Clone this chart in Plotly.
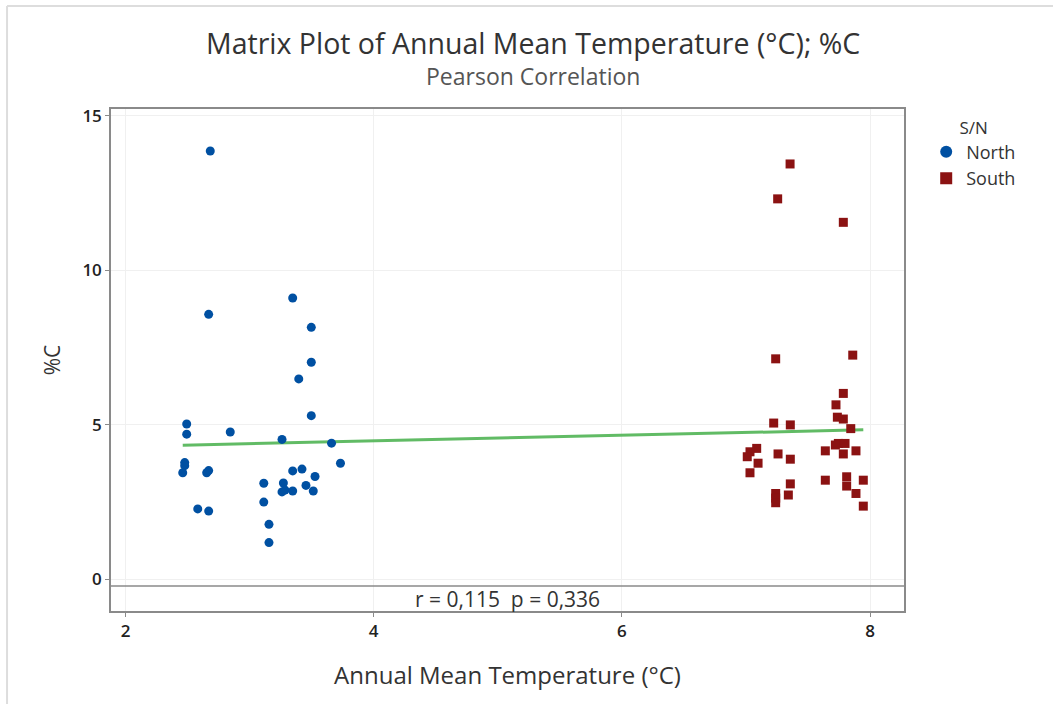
import numpy as np
import plotly.graph_objects as go

# Annual mean temperature (°C) and carbon content (%C) per site
north_temp = [2.683, 2.670, 3.347, 3.497, 3.497, 3.396, 3.497, 2.493, 2.493, 2.844,
              3.261, 3.660, 2.477, 2.477, 2.461, 2.670, 2.654, 3.732, 3.347, 3.422,
              3.527, 3.114, 3.272, 3.261, 3.285, 3.347, 3.454, 3.513, 3.114, 2.582,
              2.670, 3.156, 3.156]
north_c = [13.86, 8.57, 9.10, 8.15, 7.02, 6.48, 5.29, 5.02, 4.69, 4.76,
           4.52, 4.40, 3.77, 3.67, 3.44, 3.51, 3.44, 3.75, 3.50, 3.56,
           3.32, 3.10, 3.11, 2.82, 2.88, 2.85, 3.03, 2.85, 2.49, 2.27,
           2.20, 1.77, 1.18]

south_temp = [7.355, 7.255, 7.784, 7.239, 7.860, 7.784, 7.725, 7.736, 7.784, 7.844,
              7.223, 7.357, 7.086, 7.032, 7.010, 7.097, 7.032, 7.258, 7.357, 7.639,
              7.744, 7.798, 7.784, 7.886, 7.720, 7.639, 7.811, 7.811, 7.945, 7.886,
              7.945, 7.357, 7.341, 7.239, 7.239, 7.239]
south_c = [13.44, 12.31, 11.55, 7.13, 7.25, 6.01, 5.64, 5.24, 5.18, 4.87,
           5.05, 4.99, 4.23, 4.12, 3.96, 3.75, 3.44, 4.05, 3.88, 4.15,
           4.39, 4.39, 4.05, 4.15, 4.34, 3.20, 3.31, 3.01, 3.20, 2.77,
           2.36, 3.08, 2.72, 2.77, 2.62, 2.47]

group_names = ["North", "South"]
corr_text = "r = 0,115  p = 0,336"

x_ticks = [2, 4, 6, 8]
y_ticks = [0, 5, 10, 15]
x_range = [1.883, 8.273]
y_range = [-1.036, 15.22]
strip_top = -0.227

# Least-squares line over all sites
all_x = np.array(north_temp + south_temp)
all_y = np.array(north_c + south_c)
slope, intercept = np.polyfit(all_x, all_y, 1)
fit_x = np.array([all_x.min(), all_x.max()])
fit_y = intercept + slope * fit_x

FONT = "Open Sans"
fig = go.Figure()

fig.add_trace(go.Scatter(
    x=fit_x, y=fit_y, mode="lines", showlegend=False, hoverinfo="skip",
    line=dict(color="rgba(80,180,84,0.9)", width=3),
))
fig.add_trace(go.Scatter(
    x=north_temp, y=north_c, mode="markers", name=group_names[0],
    marker=dict(symbol="circle", size=9, color="#0050A2"),
))
fig.add_trace(go.Scatter(
    x=south_temp, y=south_c, mode="markers", name=group_names[1],
    marker=dict(symbol="square", size=9, color="#8B1212"),
))

axis_common = dict(
    showline=True, linecolor="#8a8a8a", linewidth=1.5, mirror=True,
    showgrid=True, gridcolor="#f0f0f0", gridwidth=1,
    zeroline=False, ticks="outside", ticklen=4, tickcolor="#8a8a8a",
    tickfont=dict(family=FONT, size=17, color="#222", weight=600),
)

fig.update_xaxes(
    range=x_range, tickvals=x_ticks, **axis_common,
    title=dict(text="Annual Mean Temperature (°C)",
               font=dict(family=FONT, size=24, color="#333"), standoff=26),
)
fig.update_yaxes(
    range=y_range, tickvals=y_ticks, **axis_common,
    title=dict(text="%C", font=dict(family=FONT, size=21, color="#333"), standoff=16),
)

shapes = [
    # correlation strip under the data region
    dict(type="rect", xref="paper", yref="y", x0=0, x1=1, y0=y_range[0], y1=strip_top,
         fillcolor="white", line=dict(width=0), layer="between"),
    dict(type="line", xref="paper", yref="y", x0=0, x1=1, y0=strip_top, y1=strip_top,
         line=dict(color="#8a8a8a", width=1.5)),
    # page border (top and left)
    dict(type="line", xref="paper", yref="paper", x0=-0.1311, x1=1.2, y0=1.205, y1=1.205,
         line=dict(color="#dddddd", width=2)),
    dict(type="line", xref="paper", yref="paper", x0=-0.1311, x1=-0.1311, y0=1.205, y1=-0.2,
         line=dict(color="#dddddd", width=2)),
]

annotations = [
    dict(text=corr_text, xref="paper", yref="y", x=0.5, y=(y_range[0] + strip_top) / 2,
         showarrow=False, font=dict(family=FONT, size=21, color="#333")),
    dict(text="Matrix Plot of Annual Mean Temperature (°C); %C", xref="paper", yref="paper",
         x=0.5316, y=1.132, showarrow=False, yanchor="middle",
         font=dict(family=FONT, size=28.5, color="#333")),
    dict(text="Pearson Correlation", xref="paper", yref="paper",
         x=0.5316, y=1.065, showarrow=False, yanchor="middle",
         font=dict(family=FONT, size=23, color="#555")),
]

fig.update_layout(
    width=1053, height=704,
    margin=dict(l=111, r=149, t=109, b=93),
    paper_bgcolor="white", plot_bgcolor="white",
    shapes=shapes, annotations=annotations,
    legend=dict(
        x=1.028, y=0.995, xanchor="left", yanchor="top",
        title=dict(text="S/N", side="top center", font=dict(family=FONT, size=17, color="#333")),
        font=dict(family=FONT, size=18, color="#333"),
        tracegroupgap=0, itemsizing="constant",
    ),
)

fig.write_html("out.html")
